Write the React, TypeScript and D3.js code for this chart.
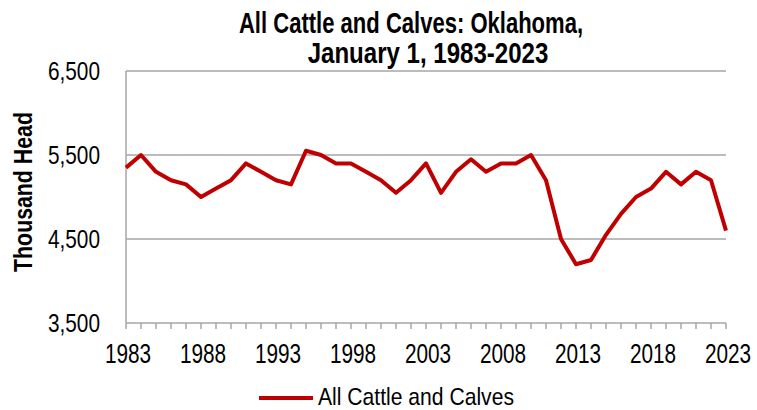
import { useMemo } from "react";
import * as d3 from "d3";

const years: number[] = d3.range(1983, 2024);
const cattle: number[] = [
  5350, 5500, 5300, 5200, 5150, 5000, 5100, 5200, 5400, 5300,
  5200, 5150, 5550, 5500, 5400, 5400, 5300, 5200, 5050, 5200,
  5400, 5050, 5300, 5450, 5300, 5400, 5400, 5500, 5200, 4500,
  4200, 4250, 4550, 4800, 5000, 5100, 5300, 5150, 5300, 5200,
  4600,
];
const yTicks: number[] = [3500, 4500, 5500, 6500];
const xLabels: number[] = [1983, 1988, 1993, 1998, 2003, 2008, 2013, 2018, 2023];
const titleLines: string[] = ["All Cattle and Calves: Oklahoma,", "January 1, 1983-2023"];
const seriesName = "All Cattle and Calves";

// Arial Narrow look-alike: Liberation Sans squeezed horizontally
const FONT = "'Liberation Sans', Arial, sans-serif";

type TProps = {
  x: number;
  y: number;
  size: number;
  sx: number;
  anchor?: "start" | "middle" | "end";
  bold?: boolean;
  rotate?: number;
  dy?: string;
  children: React.ReactNode;
};

const T = ({ x, y, size, sx, anchor = "start", bold, rotate = 0, dy, children }: TProps) => (
  <text
    transform={`translate(${x},${y}) rotate(${rotate}) scale(${sx},1)`}
    textAnchor={anchor}
    dy={dy}
    fontFamily={FONT}
    fontWeight={bold ? "bold" : "normal"}
    fontSize={size}
    fill="#000"
  >
    {children}
  </text>
);

export default function App() {
  const width = 757;
  const height = 410;
  const margin = { top: 71, right: 31, bottom: 87, left: 126 };

  const x = useMemo(
    () => d3.scaleLinear().domain([1983, 2023]).range([margin.left, width - margin.right]),
    []
  );
  const y = useMemo(
    () => d3.scaleLinear().domain([3500, 6500]).range([height - margin.bottom, margin.top]),
    []
  );

  const linePath = useMemo(() => {
    const gen = d3
      .line<number>()
      .x((_, i) => x(years[i]))
      .y((d) => y(d));
    return gen(cattle) ?? undefined;
  }, [x, y]);

  const fmt = d3.format(",");
  const baseY = y(3500);
  const grid = "#a6a6a6";

  return (
    <div style={{ position: "absolute", left: 0, top: 0 }}>
      <svg width={width} height={height} style={{ display: "block", background: "#fff" }}>
        {/* title */}
        {titleLines.map((t, i) => (
          <T
            key={t}
            x={i === 0 ? 411 : 428}
            y={33 + i * 30}
            size={29}
            sx={i === 0 ? 0.76 : 0.83}
            anchor="middle"
            bold
          >
            {t}
          </T>
        ))}

        {/* gridlines */}
        {yTicks.slice(1).map((v) => (
          <line
            key={v}
            x1={margin.left}
            x2={width - margin.right}
            y1={y(v)}
            y2={y(v)}
            stroke={grid}
            strokeWidth={1.5}
          />
        ))}

        {/* axes */}
        <line x1={margin.left} x2={margin.left} y1={y(6500)} y2={baseY} stroke={grid} strokeWidth={1.5} />
        <line x1={margin.left} x2={width - margin.right} y1={baseY} y2={baseY} stroke={grid} strokeWidth={1.5} />
        {years.map((yr) => (
          <line key={yr} x1={x(yr)} x2={x(yr)} y1={baseY} y2={baseY + 6} stroke={grid} strokeWidth={1.5} />
        ))}

        {/* y tick labels */}
        {yTicks.map((v) => (
          <T key={v} x={100} y={y(v)} dy="0.36em" size={26} sx={0.8} anchor="end">
            {fmt(v)}
          </T>
        ))}

        {/* x tick labels */}
        {xLabels.map((yr) => (
          <T key={yr} x={x(yr) + 2} y={363} size={27} sx={0.77} anchor="middle">
            {yr}
          </T>
        ))}

        {/* y axis title */}
        <T x={32} y={192} size={26} sx={0.82} rotate={-90} anchor="middle" bold>
          Thousand Head
        </T>

        {/* series */}
        <path d={linePath} fill="none" stroke="#c00000" strokeWidth={4} strokeLinejoin="round" />

        {/* legend */}
        <line x1={259} x2={313} y1={398} y2={398} stroke="#c00000" strokeWidth={4} />
        <T x={318} y={405} size={24} sx={0.88}>
          {seriesName}
        </T>
      </svg>
    </div>
  );
}
